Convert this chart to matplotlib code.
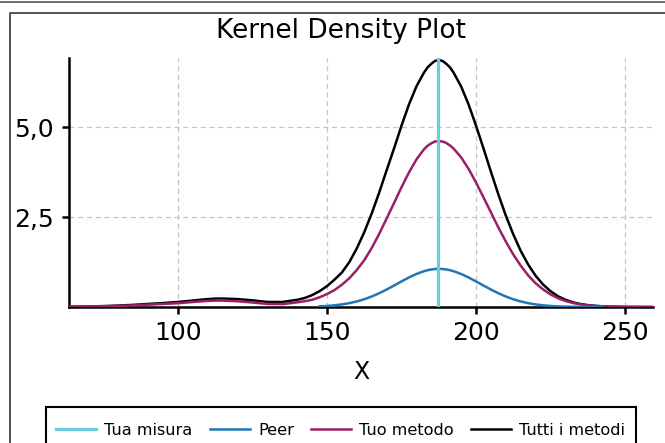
import matplotlib
matplotlib.use("Agg")
import matplotlib.pyplot as plt
from matplotlib.lines import Line2D
from matplotlib.patches import Rectangle
from matplotlib.ticker import FuncFormatter

# ---- data ----
x_grid = [60, 65, 70, 75, 80, 85, 90, 95, 100, 105, 110, 113, 115, 120, 125, 130, 135, 140,
          142.5, 145, 147.5, 150, 152.5, 155, 157.5, 160, 162.5, 165, 167.5, 170, 172.5, 175,
          177.5, 180, 182.5, 183.75, 185, 186.25, 187.5, 188.75, 190, 191.25, 192.5, 195,
          197.5, 200, 202.5, 205, 207.5, 210,
          212.5, 215, 217.5, 220, 222.5, 225, 227.5, 230, 232.5, 235, 237.5, 240, 242.5, 245,
          250, 255, 260, 265]
tutti_metodi = [0.007, 0.01, 0.015, 0.025, 0.04, 0.06, 0.085, 0.11, 0.14, 0.18, 0.22, 0.235, 0.235,
                0.22, 0.185, 0.14, 0.14, 0.2,
                0.25, 0.33, 0.44, 0.58, 0.76, 0.96, 1.25, 1.63, 2.08, 2.6, 3.18, 3.8, 4.41, 5.04,
                5.63, 6.13, 6.51, 6.66, 6.76, 6.84, 6.86, 6.84, 6.76, 6.66, 6.51, 6.13,
                5.63, 5.04, 4.41, 3.76, 3.13, 2.54,
                2.02, 1.56, 1.18, 0.869, 0.625, 0.44, 0.30, 0.20, 0.131, 0.084, 0.052, 0.032,
                0.019, 0.011, 0.003, 0.001, 0.0, 0.0]
tuo_metodo = [0.006, 0.008, 0.012, 0.02, 0.03, 0.045, 0.065, 0.085, 0.105, 0.14, 0.17, 0.178, 0.178,
              0.16, 0.125, 0.085, 0.08, 0.13,
              0.16, 0.2, 0.27, 0.36, 0.47, 0.62, 0.8, 1.03, 1.3, 1.64, 2.03, 2.46, 2.89, 3.33,
              3.74, 4.10, 4.38, 4.48, 4.55, 4.60, 4.61, 4.60, 4.56, 4.49, 4.40, 4.16,
              3.84, 3.46, 3.05, 2.63, 2.21, 1.82,
              1.46, 1.15, 0.88, 0.66, 0.49, 0.35, 0.244, 0.167, 0.112, 0.073, 0.047, 0.029,
              0.018, 0.011, 0.004, 0.001, 0.0, 0.0]
x_peer = [147.5, 150, 152.5, 155, 157.5, 160, 162.5, 165, 167.5, 170, 172.5, 175, 177.5, 180,
          182.5, 183.75, 185, 186.25, 187.5, 188.75, 190, 191.25, 192.5, 195, 197.5, 200, 202.5,
          205, 207.5, 210, 212.5, 215, 217.5, 220, 222.5, 225, 227.5, 230, 235, 240, 242.5]
peer = [0.018, 0.029, 0.047, 0.072, 0.107, 0.154, 0.215, 0.292, 0.382, 0.485, 0.597, 0.711,
        0.821, 0.918, 0.994, 1.023, 1.043, 1.056, 1.06, 1.056, 1.043, 1.023, 0.994, 0.918,
        0.821, 0.711, 0.597, 0.485, 0.382, 0.292, 0.215, 0.154, 0.107, 0.072, 0.047, 0.029,
        0.018, 0.01, 0.003, 0.001, 0.0]
tua_misura = 187.2

x_ticks = [100, 150, 200, 250]
y_ticks = [2.5, 5.0]
labels = ["Tua misura", "Peer", "Tuo metodo", "Tutti i metodi"]

c_misura = "#6ccbdc"
c_peer = "#1f77b4"
c_metodo = "#9c1f66"
c_tutti = "black"

W, H = 665, 443
fig = plt.figure(figsize=(W / 100, H / 100), dpi=100)

# frame lines of the (cropped) figure
fig.add_artist(Line2D([0, 1], [1 - 1.5 / H] * 2, transform=fig.transFigure,
                      color="#555555", lw=1.2))
fig.add_artist(Line2D([1.0, 9.5 / W, 9.5 / W], [1 - 12.5 / H, 1 - 12.5 / H, 0],
                      transform=fig.transFigure, color="#444444", lw=1.3))

ax = fig.add_axes([69 / W, 136 / H, (653 - 69) / W, (307 - 58) / H])

l4, = ax.plot(x_grid, tutti_metodi, color=c_tutti, lw=1.8, zorder=3)
l3, = ax.plot(x_grid, tuo_metodo, color=c_metodo, lw=1.8, zorder=4)
l2, = ax.plot(x_peer, peer, color=c_peer, lw=1.8, zorder=5)
l1 = ax.axvline(tua_misura, color=c_misura, lw=2.3, zorder=6)

ax.set_xlim(63.4, 259.4)
ax.set_ylim(0, 6.92)
ax.set_xticks(x_ticks)
ax.set_yticks(y_ticks)
ax.yaxis.set_major_formatter(FuncFormatter(lambda v, p: f"{v:.1f}".replace(".", ",")))
ax.grid(True, ls=(0, (4, 3)), color="#c4c4c4", lw=0.9)
ax.set_axisbelow(True)
for s in ("top", "right"):
    ax.spines[s].set_visible(False)
for s in ("left", "bottom"):
    ax.spines[s].set_linewidth(1.8)
    ax.spines[s].set_color("black")
ax.tick_params(axis="both", length=5, width=1.8, labelsize=18, color="black")
ax.tick_params(axis="y", pad=6)
ax.tick_params(axis="x", pad=5)
ax.set_xlabel("X", fontsize=17, labelpad=11)

fig.text(341.5 / W, 1 - 31 / H, "Kernel Density Plot", fontsize=19, ha="center", va="center")

leg = fig.legend([l1, l2, l3, l4], labels, loc="upper left",
                 bbox_to_anchor=(48 / W, 1 - 415 / H), ncol=4, fontsize=11.6,
                 frameon=False, borderpad=0.5, handlelength=2.5, handletextpad=0.5,
                 columnspacing=1.05, borderaxespad=0)
fig.add_artist(Rectangle((46.5 / W, -0.1), (636 - 46.5) / W, (1 - 407 / H) + 0.1,
                         transform=fig.transFigure, fill=False, edgecolor="black",
                         lw=1.5, clip_on=False))

fig.savefig("out.png", dpi=100)
